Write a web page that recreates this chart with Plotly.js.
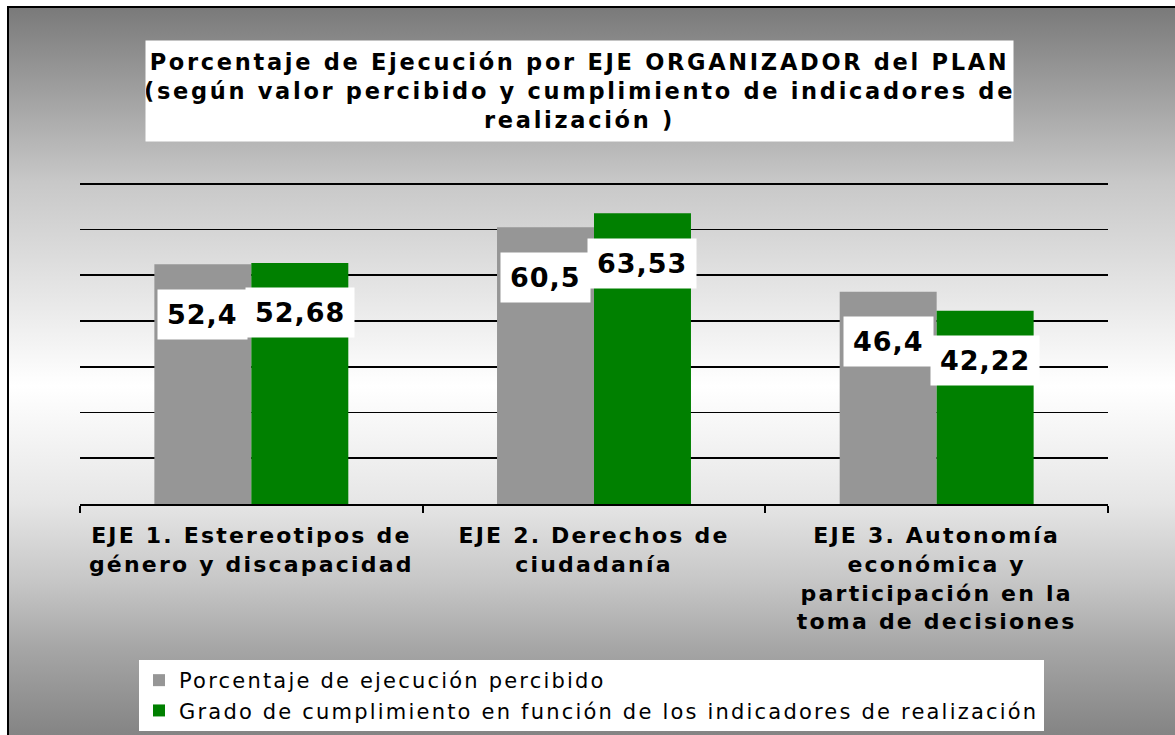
<!DOCTYPE html>
<html><head><meta charset="utf-8">
<script src="https://cdn.plot.ly/plotly-3.0.1.min.js"></script>
<style>
html,body{margin:0;padding:0;background:#fff;width:1175px;height:735px;overflow:hidden}
#frame{position:absolute;left:7px;top:6px;width:1180px;height:729px;box-sizing:border-box;border-left:2px solid #000;border-top:2px solid #000;
background:linear-gradient(to bottom,#7a7a7a 0%,#c8c8c8 24%,#ffffff 52%,#e6e6e6 68%,#c6c6c6 79%,#a6a6a6 88%,#848484 100%)}
#chart{position:absolute;left:0;top:0;width:1175px;height:735px}
text[style*="font-size: 22.5px"]{letter-spacing:2.7px}
text[style*="font-size: 22px"]{letter-spacing:2.2px}
text[style*="font-size: 27px"]{letter-spacing:1px}
text[style*="font-size: 21px"]{letter-spacing:2.2px}
</style>
</head><body>
<div id="frame"></div>
<div id="chart"></div>
<script>
const categories = ['EJE 1. Estereotipos de<br>género y discapacidad', 'EJE 2. Derechos de<br>ciudadanía', 'EJE 3. Autonomía<br>económica y<br>participación en la<br>toma de decisiones'];
const seriesNames = ['Porcentaje de ejecución percibido', 'Grado de cumplimiento en función de los indicadores de realización'];
const percibido = [52.4, 60.5, 46.4];
const cumplimiento = [52.68, 63.53, 42.22];
const seriesColors = ['#969696', '#008000'];
const yRange = [0, 70.6];
const yStep = 10;
const titleText = 'Porcentaje de Ejecución por EJE ORGANIZADOR del PLAN<br>(según valor percibido y cumplimiento de indicadores de<br>realización )';

const W = 1175, H = 735;
const margin = {l: 80, r: 67, t: 181, b: 231, autoexpand: false};
const bargap = 0.434;
const plotW = W - margin.l - margin.r;
const plotH = H - margin.t - margin.b;
const barPx = plotW / categories.length * (1 - bargap) / 2;
const fam = 'DejaVu Sans, Verdana, sans-serif';

const seriesValues = [percibido, cumplimiento];
const traces = seriesValues.map((vals, i) => ({
  type: 'bar', x: categories, y: vals, name: seriesNames[i],
  marker: {color: seriesColors[i], line: {width: 0}},
  hoverinfo: 'none'
}));

function fmt(v) { return String(v).replace('.', ','); }

const annotations = [{
  xref: 'paper', yref: 'paper', x: (579.5 - margin.l) / plotW, y: (H - margin.b - 40) / plotH,
  xanchor: 'center', yanchor: 'top', width: 867, height: 100, bgcolor: '#ffffff', borderpad: 0,
  showarrow: false, align: 'center', valign: 'middle',
  text: titleText, font: {family: fam, size: 22.5, color: '#000', weight: 'bold'}
}];
seriesValues.forEach((vals, i) => {
  vals.forEach((v, j) => {
    annotations.push({
      xref: 'x', yref: 'y', x: categories[j], y: v,
      xshift: (i === 0 ? -1 : 1) * barPx / 2, yshift: -50,
      xanchor: 'center', yanchor: 'middle', showarrow: false,
      bgcolor: '#ffffff', borderpad: 9,
      text: fmt(v), font: {family: fam, size: 27, color: '#000', weight: 'bold'}
    });
  });
});

const layout = {
  width: W, height: H, margin: margin,
  paper_bgcolor: 'rgba(0,0,0,0)', plot_bgcolor: 'rgba(0,0,0,0)',
  barmode: 'group', bargap: bargap, bargroupgap: 0,
  showlegend: true,
  legend: {
    x: (139 - margin.l) / plotW, y: -(660 - (H - margin.b)) / plotH,
    xanchor: 'left', yanchor: 'top', orientation: 'v',
    bgcolor: '#ffffff', borderwidth: 0, itemwidth: 30,
    font: {family: fam, size: 21, color: '#000'}, traceorder: 'normal'
  },
  xaxis: {
    type: 'category', showgrid: false, zeroline: false,
    showline: true, linecolor: '#000', linewidth: 2,
    ticks: 'outside', tickson: 'boundaries', ticklen: 7, tickwidth: 2, tickcolor: '#000',
    ticklabelstandoff: 11, automargin: false,
    tickfont: {family: fam, size: 22, color: '#000', weight: 'bold'},
    fixedrange: true
  },
  yaxis: {
    range: yRange, dtick: yStep, tick0: 0, showgrid: true, gridcolor: '#000', gridwidth: 1.6,
    showticklabels: false, zeroline: false, showline: false, ticks: '', fixedrange: true, automargin: false
  },
  annotations: annotations
};

Plotly.newPlot('chart', traces, layout, {displayModeBar: false, staticPlot: true});
</script>
</body></html>
